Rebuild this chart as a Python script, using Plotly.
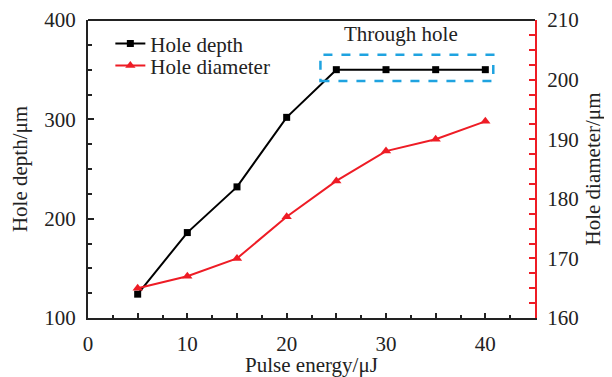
import plotly.graph_objects as go

energy = [5, 10, 15, 20, 25, 30, 35, 40]
hole_depth = [124, 186, 232, 302, 350, 350, 350, 350]
hole_diameter = [165, 167, 170, 177, 183, 188, 190, 193]

x_tickvals = [0, 5, 10, 15, 20, 25, 30, 35, 40, 45]
x_ticktext = ["0", "", "10", "", "20", "", "30", "", "40", ""]

FONT = "Liberation Serif"
FS = 21
RED = "#EE1C25"
INK = "#222"

fig = go.Figure()
fig.add_trace(go.Scatter(x=energy, y=hole_depth, name="Hole depth", mode="lines+markers",
                         legend="legend",
                         line=dict(color="black", width=2),
                         marker=dict(symbol="square", size=7, color="black")))
fig.add_trace(go.Scatter(x=energy, y=hole_diameter, name="Hole diameter", mode="lines+markers",
                         yaxis="y2", legend="legend2",
                         line=dict(color=RED, width=2),
                         marker=dict(symbol="triangle-up", size=9, color=RED)))

fig.add_shape(type="rect", xref="x", yref="y", x0=23.4, x1=40.8, y0=338.5, y1=365,
              line=dict(color="#1FA3E0", width=2.5, dash="dash"))
fig.add_annotation(x=31.5, y=372, xref="x", yref="y", text="Through hole", showarrow=False,
                   yanchor="bottom", font=dict(family=FONT, size=FS, color=INK))

leg = dict(xanchor="left", yanchor="middle", bgcolor="rgba(0,0,0,0)",
           font=dict(family=FONT, size=FS, color=INK), itemwidth=30)

fig.update_layout(
    width=604, height=369,
    margin=dict(l=80, r=77, t=12, b=59),
    paper_bgcolor="white", plot_bgcolor="white",
    font=dict(family=FONT, size=FS, color=INK),
    showlegend=True,
    legend=dict(x=0.05, y=0.92, **leg),
    legend2=dict(x=0.05, y=0.846, **leg),
    xaxis=dict(range=[0, 45], tickvals=x_tickvals, ticktext=x_ticktext, showgrid=False, zeroline=False,
               showline=True, linecolor=INK, linewidth=2, automargin=False,
               ticks="inside", ticklen=5, tickwidth=2, tickcolor=INK, ticklabelstandoff=6,
               minor=dict(tickvals=[2.5, 7.5, 12.5, 17.5, 22.5, 27.5, 32.5, 37.5, 42.5],
                          ticks="inside", ticklen=3, tickwidth=2, tickcolor=INK),
               title=dict(text="Pulse energy/μJ", font=dict(family=FONT, size=FS), standoff=8),
               tickfont=dict(family=FONT, size=FS)),
    yaxis=dict(range=[100, 400], tickvals=[100, 200, 300, 400], showgrid=False, zeroline=False,
               showline=True, linecolor=INK, linewidth=2, automargin=False,
               ticks="inside", ticklen=6, tickwidth=2, tickcolor=INK, ticklabelstandoff=6,
               minor=dict(tickvals=[125, 150, 175, 225, 250, 275, 325, 350, 375],
                          ticks="inside", ticklen=4, tickwidth=2, tickcolor=INK),
               title=dict(text="Hole depth/μm", font=dict(family=FONT, size=FS), standoff=13),
               tickfont=dict(family=FONT, size=FS)),
    yaxis2=dict(range=[160, 210], tickvals=[160, 170, 180, 190, 200, 210], overlaying="y", side="right",
                showgrid=False, zeroline=False, automargin=False,
                showline=True, linecolor=RED, linewidth=2,
                ticks="inside", ticklen=6, tickwidth=2, tickcolor=RED, ticklabelstandoff=6,
                minor=dict(tickvals=[162.5, 165, 167.5, 172.5, 175, 177.5, 182.5, 185, 187.5,
                                     192.5, 195, 197.5, 202.5, 205, 207.5],
                           ticks="inside", ticklen=6, tickwidth=2, tickcolor=RED),
                title=dict(text="Hole diameter/μm", font=dict(family=FONT, size=FS), standoff=8),
                tickfont=dict(family=FONT, size=FS)),
)
fig.add_shape(type="line", xref="paper", yref="paper", x0=0, x1=1, y0=1, y1=1,
              line=dict(color=INK, width=2))

fig.write_html("out.html")
